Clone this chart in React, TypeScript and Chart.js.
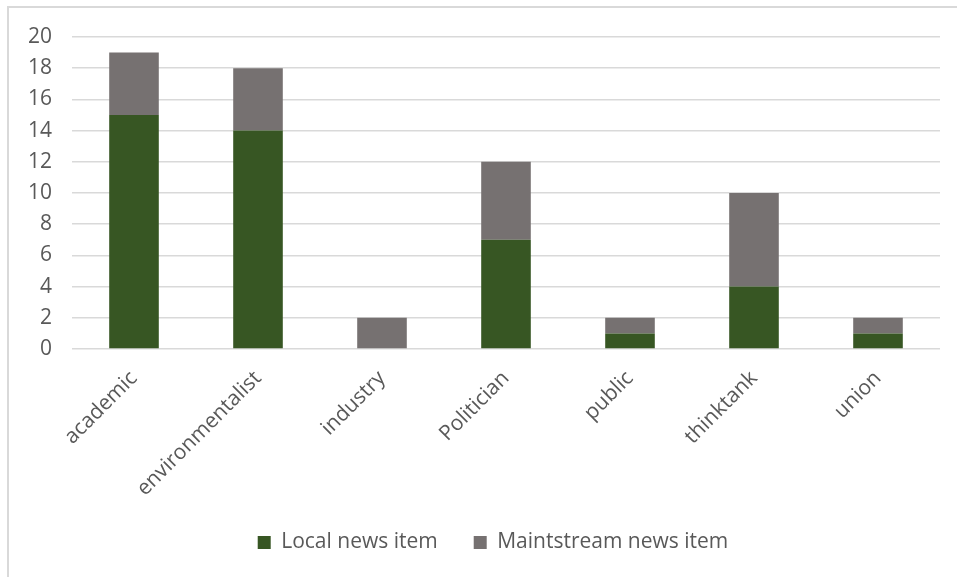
import React, { useEffect, useRef } from "react";
import { Chart, registerables } from "chart.js";

Chart.register(...registerables);

const categories = ["academic", "environmentalist", "industry", "Politician", "public", "thinktank", "union"];
const localValues = [15, 14, 0, 7, 1, 4, 1];
const mainstreamValues = [4, 4, 2, 5, 1, 6, 1];
const seriesNames = ["Local news item", "Maintstream news item"];
const seriesColors = ["#375623", "#767171"];
const yMin = 0;
const yMax = 20;
const yStep = 2;

const TEXT = "#595959";
const FONT = { family: "'Open Sans', sans-serif", size: 21 };
const LEGEND_SHIFT = 23;

const legendShift = {
  id: "legendShift",
  afterLayout(chart: any) {
    if (chart.legend) {
      chart.legend.left += LEGEND_SHIFT;
      chart.legend.right += LEGEND_SHIFT;
    }
  },
};

export default function App() {
  const ref = useRef<HTMLCanvasElement>(null);

  useEffect(() => {
    document.body.style.margin = "0";
    const chart = new Chart(ref.current!, {
      type: "bar",
      data: {
        labels: categories,
        datasets: [
          {
            label: seriesNames[0],
            data: localValues,
            backgroundColor: seriesColors[0],
            categoryPercentage: 1,
            barPercentage: 0.4,
          },
          {
            label: seriesNames[1],
            data: mainstreamValues,
            backgroundColor: seriesColors[1],
            categoryPercentage: 1,
            barPercentage: 0.4,
          },
        ],
      },
      options: {
        animation: false,
        responsive: false,
        layout: { padding: { top: 37, right: 17, bottom: 14, left: 0 } },
        scales: {
          x: {
            stacked: true,
            grid: { display: false, drawTicks: false },
            border: { display: false },
            ticks: { minRotation: 45, maxRotation: 45, color: TEXT, font: FONT, padding: 17 },
            afterFit: (s: any) => {
              s.height = 147;
            },
          },
          y: {
            stacked: true,
            min: yMin,
            max: yMax,
            ticks: { stepSize: yStep, padding: 20, color: TEXT, font: FONT },
            grid: { color: "#d9d9d9", lineWidth: 1.5, drawTicks: false },
            border: { display: false },
            afterFit: (s: any) => {
              s.width = 72;
            },
          },
        },
        plugins: {
          legend: {
            position: "bottom",
            labels: { boxWidth: 13, boxHeight: 13, padding: 36, color: TEXT, font: FONT },
          },
          tooltip: { enabled: false },
        },
      },
      plugins: [legendShift],
    });
    return () => chart.destroy();
  }, []);

  return (
    <div style={{ position: "relative", width: 957, height: 577, background: "#fff" }}>
      <canvas ref={ref} width={957} height={577} style={{ position: "absolute", left: 0, top: 0 }} />
      <div
        style={{
          position: "absolute",
          left: 7,
          top: 6,
          width: 950,
          height: 571,
          borderTop: "2px solid #d9d9d9",
          borderLeft: "2px solid #d9d9d9",
          boxSizing: "border-box",
          pointerEvents: "none",
        }}
      />
    </div>
  );
}
